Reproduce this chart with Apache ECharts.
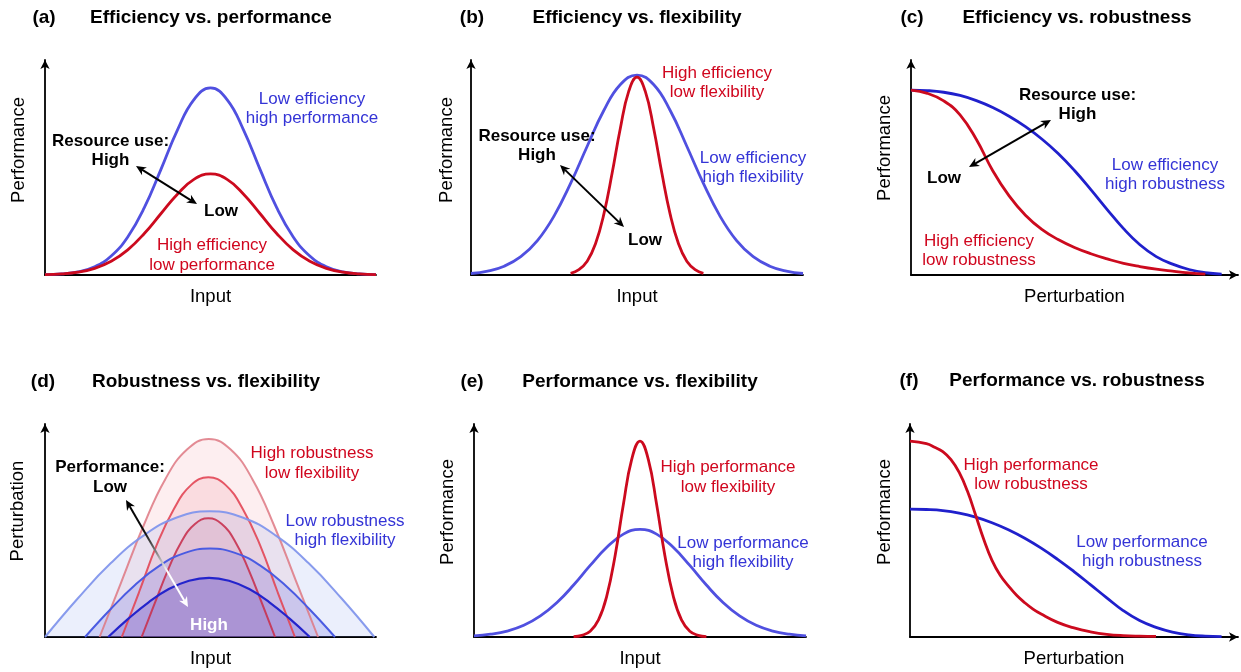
<!DOCTYPE html>
<html><head><meta charset="utf-8">
<script src="https://cdn.jsdelivr.net/npm/echarts@6/dist/echarts.min.js"></script>
<style>html,body{margin:0;padding:0;background:#fff}#c{width:1241px;height:672px}</style>
</head><body><div id="c"></div>
<script>
// ---------- data (x and y in 0..100 units) ----------
// (a) Efficiency vs. performance
const aX = [0,5,10,15,20,25,30,35,40,45,50,55,60,65,70,75,80,85,90,95,100];
const aBlue = [0.15,0.5,1.5,3.8,8.8,17.7,31.3,49,67.4,81.6,87,81.6,67.4,49,31.3,17.7,8.8,3.8,1.5,0.5,0.15];
const aRed  = [0.2,0.5,1.3,3.1,6.4,11.7,19.3,28.5,37.6,44.5,47,44.5,37.6,28.5,19.3,11.7,6.4,3.1,1.3,0.5,0.2];
// (b) Efficiency vs. flexibility
const bX = [0,5,10,15,20,25,30,35,40,45,50,55,60,65,70,75,80,85,90,95,100];
const bBlue = [0.7,1.8,4.1,8.5,16,27.4,42.6,59.9,76.5,88.6,93,88.6,76.5,59.9,42.6,27.4,16,8.5,4.1,1.8,0.7];
const bRedX = [30,32.5,35,37.5,40,42.5,45,47.5,50,52.5,55,57.5,60,62.5,65,67.5,70];
const bRed  = [0.8,2.5,6.4,14.5,28.2,47.3,68.4,85.4,92,85.4,68.4,47.3,28.2,14.5,6.4,2.5,0.8];
// (c) Efficiency vs. robustness
const cBlueX = [0,5,10,15,20,25,30,35,40,45,50,55,60,65,70,75,80,85,90,95];
const cBlue  = [86,85.75,85,83.5,81.1,77.9,73.85,69,63.25,56.5,48.6,39.7,30.45,21.55,14.05,8.55,5.05,2.55,1.05,0.45];
const cRedX  = [0,5,10,15,20,25,30,35,40,45,50,55,60,65,70,75,80,85,90];
const cRed   = [86,84.5,81,74.5,63,48.5,36.8,27.8,21.2,16.5,12.8,9.9,7.5,5.4,3.9,2.7,1.8,1.0,0.4];
// (d) Robustness vs. flexibility (perturbation envelopes)
const dRed1X = [16.5,23.1,29.7,36.3,42.9,49.5,56.1,62.7,69.3,75.9,82.5];
const dRed1  = [0,26,52,74,88,93,88,74,52,26,0];
const dRed2X = [23.2,28.4,33.7,38.9,44.1,49.35,54.6,59.8,65.0,70.3,75.5];
const dRed2  = [0,21,43,60,71.3,75,71.3,60,43,21,0];
const dRed3X = [29.2,33.2,37.3,41.3,45.3,49.35,53.4,57.4,61.4,65.5,69.5];
const dRed3  = [0,16,32,45,53,55.7,53,45,32,16,0];
const dBlue1X = [0,9.95,19.9,29.85,39.8,49.75,59.7,69.65,79.6,89.55,99.5];
const dBlue1  = [0,18.2,34.7,47.7,56.1,59,56.1,47.7,34.7,18.2,0];
const dBlue2X = [12.1,19.65,27.2,34.75,42.3,49.85,57.4,64.95,72.5,80.05,87.6];
const dBlue2  = [0,12.8,24.4,33.6,39.5,41.5,39.5,33.6,24.4,12.8,0];
const dBlue3X = [19.1,25.2,31.3,37.4,43.5,49.55,55.6,61.7,67.8,73.9,80];
const dBlue3  = [0,8.6,16.3,22.5,26.4,27.8,26.4,22.5,16.3,8.6,0];
// (e) Performance vs. flexibility
const eX = [0,5,10,15,20,25,30,35,40,45,50,55,60,65,70,75,80,85,90,95,100];
const eBlue = [0.5,1.3,2.8,5.5,9.9,16.2,24.4,33.6,42.1,48.3,50.5,48.3,42.1,33.6,24.4,16.2,9.9,5.5,2.8,1.3,0.5];
const eRedX = [30,32.5,35,37.5,40,42.5,45,47.5,50,52.5,55,57.5,60,62.5,65,67.5,70];
const eRed  = [0.2,0.8,2.7,8.0,19.3,38.2,62.3,83.4,92,83.4,62.3,38.2,19.3,8.0,2.7,0.8,0.2];
// (f) Performance vs. robustness
const fRedX = [0,5,7.5,10,12.5,15,17.5,20,22.5,25,27.5,30,32.5,35,37.5,40,45,50,55,60,65,70,75];
const fRed  = [92,90.75,89.1,87,83.25,77.25,68.5,57.25,45.75,36,29,24,19.6,16.1,13.1,10.75,6.85,4.25,2.45,1.25,0.65,0.4,0.3];
const fBlueX = [0,5,10,15,20,25,30,35,40,45,50,55,60,65,70,75,80,85,90,95];
const fBlue  = [60,59.85,59.35,58.15,56.25,53.65,50.35,46.35,41.7,36.45,30.7,24.6,18.4,12.4,7.7,4.5,2.3,1.0,0.4,0.2];

const panelLetters = ['(a)','(b)','(c)','(d)','(e)','(f)'];
const panelTitles = ['Efficiency vs. performance','Efficiency vs. flexibility','Efficiency vs. robustness',
  'Robustness vs. flexibility','Performance vs. flexibility','Performance vs. robustness'];
const xNames = ['Input','Input','Perturbation','Input','Input','Perturbation'];
const yNames = ['Performance','Performance','Performance','Perturbation','Performance','Performance'];

// ---------- layout & styles ----------
const FF = '"Liberation Sans", Arial, Helvetica, sans-serif';
const RED = '#cc0a1e', BLUE = '#5050e0', DBLUE = '#2020cc';
const RED_T = '#d0061e', BLUE_T = '#3434d6';
const grids = [
  {left:45, top:60, width:331, height:215},
  {left:471, top:60, width:332, height:215},
  {left:911, top:60, width:327, height:215},
  {left:45, top:424, width:331, height:213},
  {left:474, top:424, width:332, height:213},
  {left:910, top:424, width:328, height:213}
];
const xArrow = [false,false,true,false,false,true];

const pts = (xs, ys) => xs.map((x, i) => [x, ys[i]]);

const xAxes = grids.map((g, i) => ({
  type:'value', gridIndex:i, min:0, max:100,
  axisLine:{show:true, onZero:false, lineStyle:{color:'#000', width:1.8},
    symbol: xArrow[i] ? ['none','arrow'] : ['none','none'], symbolSize:[7,9]},
  axisTick:{show:false}, axisLabel:{show:false}, splitLine:{show:false},
  name: xNames[i], nameLocation:'middle', nameGap:12,
  nameTextStyle:{fontSize:18.5, color:'#000', fontFamily:FF}
}));
const yAxes = grids.map((g, i) => ({
  type:'value', gridIndex:i, min:0, max:100,
  axisLine:{show:true, onZero:false, lineStyle:{color:'#000', width:1.8},
    symbol:['none','arrow'], symbolSize:[7,9]},
  axisTick:{show:false}, axisLabel:{show:false}, splitLine:{show:false}
}));

function line(i, xs, ys, color, width, extra) {
  return Object.assign({
    type:'line', xAxisIndex:i, yAxisIndex:i, data: pts(xs, ys),
    smooth:0.45, symbol:'none', silent:true, animation:false,
    lineStyle:{color:color, width:width}
  }, extra || {});
}
const area = c => ({areaStyle:{color:c}});

const series = [
  line(0, aX, aBlue, BLUE, 2.8), line(0, aX, aRed, RED, 2.8),
  line(1, bX, bBlue, BLUE, 2.8), line(1, bRedX, bRed, RED, 2.8),
  line(2, cBlueX, cBlue, DBLUE, 2.8), line(2, cRedX, cRed, RED, 2.8),
  line(3, dRed1X, dRed1, 'rgba(222,120,130,0.85)', 2, area('rgba(242,160,168,0.25)')),
  line(3, dRed2X, dRed2, 'rgba(226,70,85,0.9)', 2, area('rgba(236,110,125,0.2)')),
  line(3, dRed3X, dRed3, 'rgba(200,50,80,0.9)', 2, area('rgba(205,70,100,0.18)')),
  line(3, dBlue1X, dBlue1, 'rgba(130,150,236,0.95)', 2, area('rgba(140,165,236,0.25)')),
  line(3, dBlue2X, dBlue2, '#4a5be2', 2, area('rgba(95,100,225,0.3)')),
  line(3, dBlue3X, dBlue3, '#2424cc', 2.2, area('rgba(80,60,200,0.32)')),
  line(4, eX, eBlue, BLUE, 2.8), line(4, eRedX, eRed, RED, 2.8),
  line(5, fBlueX, fBlue, DBLUE, 2.8), line(5, fRedX, fRed, RED, 2.8)
];

// ---------- annotations ----------
const G = [];
function txt(x, y, text, opt) {
  opt = opt || {};
  const size = opt.size || 17, weight = opt.bold ? 'bold ' : '';
  G.push({type:'text', x:x, y:y, rotation: opt.rot || 0, z:100, silent:true,
    style:{text:text, font: weight + size + 'px ' + FF, fill: opt.color || '#000',
      align:'center', verticalAlign:'middle', textAlign:'center', textVerticalAlign:'middle',
      lineHeight: opt.lh || 19}});
}
function arrow(x1, y1, x2, y2, c1, c2, stroke) {
  const dx = x2 - x1, dy = y2 - y1, len = Math.hypot(dx, dy);
  const ux = dx / len, uy = dy / len, nx = -uy, ny = ux;
  const L = 10, W = 4.6, N = 7;
  const head = (px, py, sx, sy, color) => ({type:'polygon', z:101, silent:true,
    shape:{points:[[px,py],[px - sx*L + nx*W, py - sy*L + ny*W],[px - sx*N, py - sy*N],[px - sx*L - nx*W, py - sy*L - ny*W]]},
    style:{fill:color}});
  G.push({type:'line', z:100, silent:true,
    shape:{x1:x1 + ux*N, y1:y1 + uy*N, x2:x2 - ux*N, y2:y2 - uy*N},
    style:{stroke: stroke || c1, lineWidth:2}});
  G.push(head(x2, y2, ux, uy, c2));
  G.push(head(x1, y1, -ux, -uy, c1));
}

// titles
const titleRow = [18,18,18,382,382,381];
const letterX = [44,472,912,43,472,909];
const titleX = [211,637,1077,206,640,1077];
for (let i = 0; i < 6; i++) {
  txt(letterX[i], titleRow[i], panelLetters[i], {bold:true, size:19});
  txt(titleX[i], titleRow[i], panelTitles[i], {bold:true, size:19});
}
// y-axis names
const yNameX = [19,447,885,18,448,885];
const yNameY = [150,150,148,511,512,512];
for (let i = 0; i < 6; i++) txt(yNameX[i], yNameY[i], yNames[i], {size:18.5, rot:Math.PI/2});

// (a)
txt(312, 108.5, 'Low efficiency\nhigh performance', {color:BLUE_T});
txt(212, 255, 'High efficiency\nlow performance', {color:RED_T, lh:20});
txt(110.5, 150.5, 'Resource use:\nHigh', {bold:true});
txt(221, 211, 'Low', {bold:true});
arrow(136, 166, 197, 204, '#000', '#000');
// (b)
txt(717, 82.5, 'High efficiency\nlow flexibility', {color:RED_T});
txt(753, 167.5, 'Low efficiency\nhigh flexibility', {color:BLUE_T});
txt(537, 145.5, 'Resource use:\nHigh', {bold:true});
txt(645, 240, 'Low', {bold:true});
arrow(560, 165, 624, 227, '#000', '#000');
// (c)
txt(1077.5, 104.5, 'Resource use:\nHigh', {bold:true});
txt(944, 178, 'Low', {bold:true});
arrow(969, 167, 1051, 120, '#000', '#000');
txt(1165, 174.5, 'Low efficiency\nhigh robustness', {color:BLUE_T});
txt(979, 250.5, 'High efficiency\nlow robustness', {color:RED_T});
// (d)
txt(312, 463, 'High robustness\nlow flexibility', {color:RED_T, lh:20});
txt(345, 530.5, 'Low robustness\nhigh flexibility', {color:BLUE_T});
txt(110, 477, 'Performance:\nLow', {bold:true, lh:20});
txt(209, 625, 'High', {bold:true, color:'#fff'});
arrow(126, 500, 188, 607, '#000', '#fff', new echarts.graphic.LinearGradient(0, 0, 1, 1, [
  {offset:0, color:'#000'}, {offset:0.3, color:'#111'}, {offset:0.5, color:'#888'},
  {offset:0.68, color:'#fff'}, {offset:1, color:'#fff'}]));
// (e)
txt(728, 477, 'High performance\nlow flexibility', {color:RED_T, lh:20});
txt(743, 552.5, 'Low performance\nhigh flexibility', {color:BLUE_T});
// (f)
txt(1031, 474.5, 'High performance\nlow robustness', {color:RED_T});
txt(1142, 551.5, 'Low performance\nhigh robustness', {color:BLUE_T});

const chart = echarts.init(document.getElementById('c'), null, {renderer:'canvas'});
chart.setOption({
  animation:false,
  backgroundColor:'#fff',
  grid: grids,
  xAxis: xAxes,
  yAxis: yAxes,
  series: series,
  graphic: {elements: G}
});
</script>
</body></html>
